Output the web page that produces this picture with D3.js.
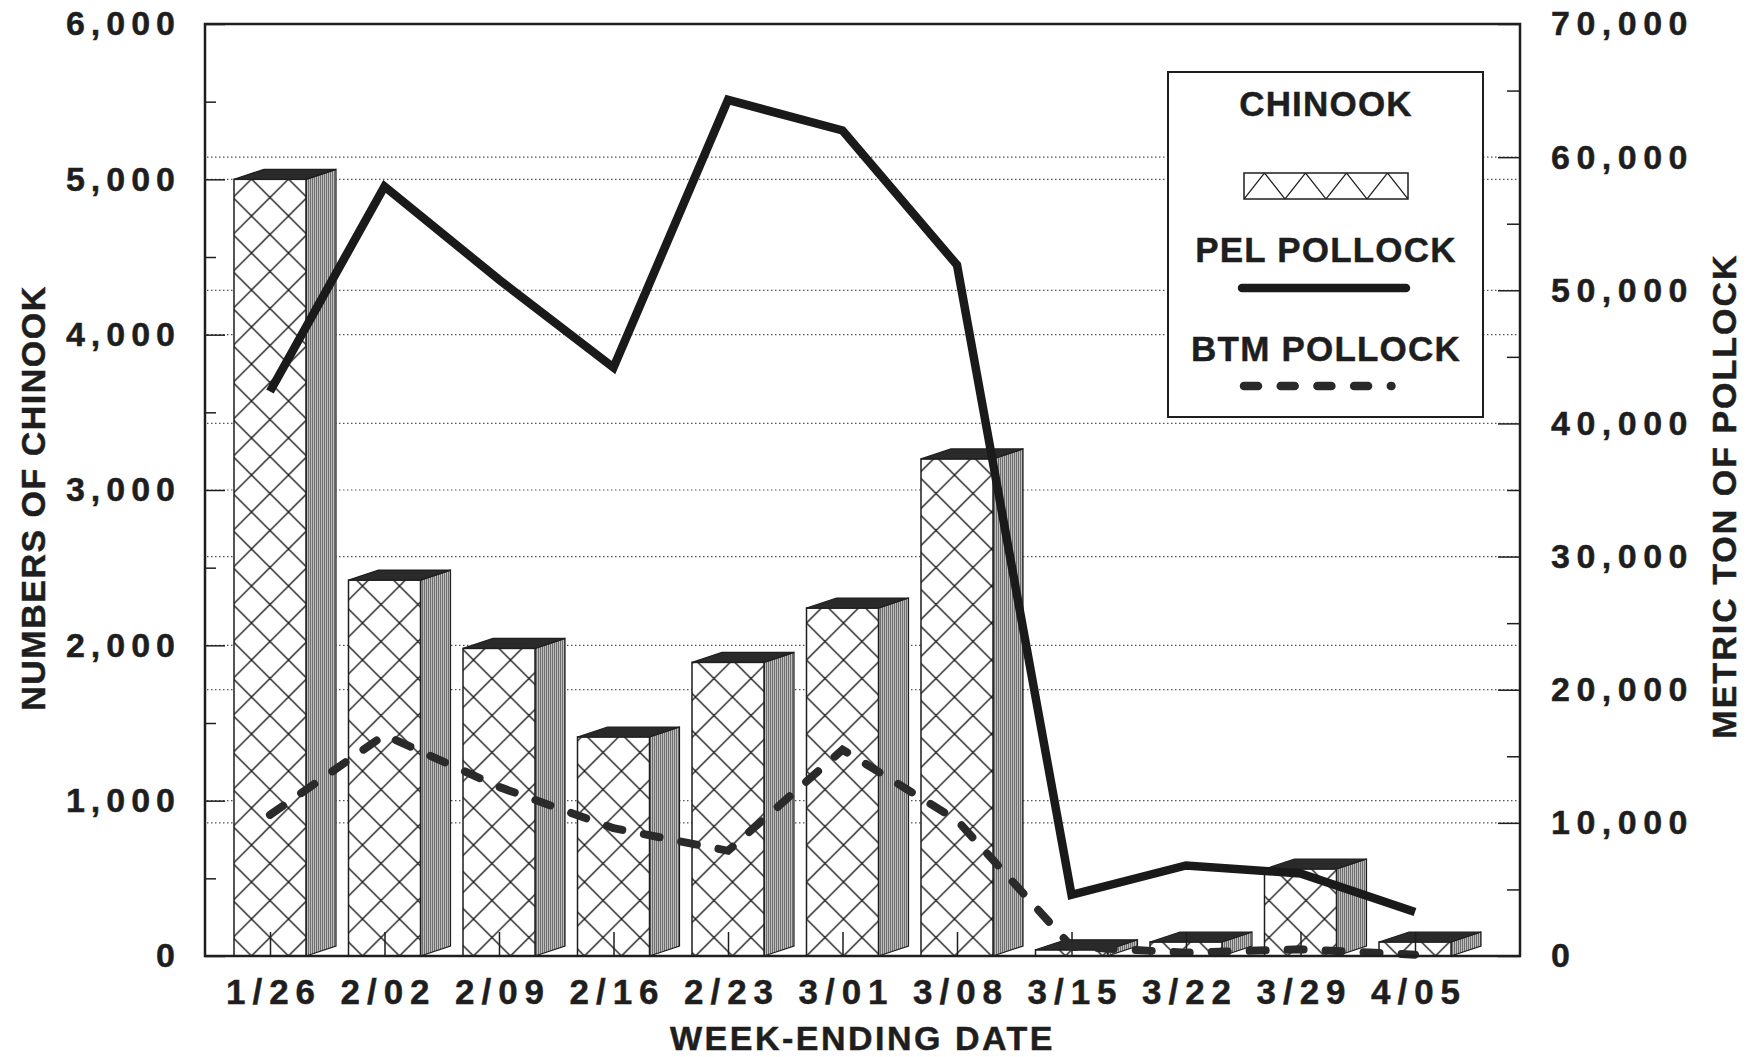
<!DOCTYPE html>
<html>
<head>
<meta charset="utf-8">
<script src="https://cdn.jsdelivr.net/npm/d3@7"></script>
<style>
  html, body { margin: 0; padding: 0; background: #fff; }
  svg { display: block; }
  text { font-family: "Liberation Sans", Arial, Helvetica, sans-serif; font-weight: bold; fill: #1e1e1e; stroke: #1e1e1e; stroke-width: 0.45px; }
</style>
</head>
<body>
<svg id="chart" width="1749" height="1057"></svg>
<script>
// ---- data ----
const weeks = ["1/26", "2/02", "2/09", "2/16", "2/23", "3/01", "3/08", "3/15", "3/22", "3/29", "4/05"];
const chinook = [5000, 2420, 1980, 1410, 1890, 2240, 3200, 40, 90, 560, 90];
const pelPollock = [42400, 57800, 50800, 44200, 64300, 62000, 51900, 4600, 6800, 6200, 3300];
const btmPollock = [10600, 16600, 12700, 9600, 7900, 15500, 10200, 700, 250, 500, 100];
const leftTicks = [0, 1000, 2000, 3000, 4000, 5000, 6000];
const leftMinor = [500, 1500, 2500, 3500, 4500, 5500];
const rightTicks = [0, 10000, 20000, 30000, 40000, 50000, 60000, 70000];
const rightMinor = [5000, 15000, 25000, 35000, 45000, 55000, 65000];
const legendLabels = ["CHINOOK", "PEL POLLOCK", "BTM POLLOCK"];

// ---- layout ----
const L = 205, R = 1520, T = 24, B = 956;
const svg = d3.select("#chart");

const x = d3.scalePoint().domain(weeks).range([270, 1415]);
const yL = d3.scaleLinear().domain([0, 6000]).range([B, T]);
const yR = d3.scaleLinear().domain([0, 70000]).range([B, T]);
const fmt = d3.format(",");

const halfW = 36, dx = 30, dy = -10;

// ---- patterns ----
const defs = svg.append("defs");
const s = 37;
const hatch = defs.append("pattern").attr("id", "hatch").attr("patternUnits", "userSpaceOnUse")
  .attr("width", s).attr("height", s).attr("x", 270 - s / 2).attr("y", B);
hatch.append("rect").attr("width", s).attr("height", s).attr("fill", "#fff");
hatch.append("path").attr("d", `M0,0L${s},${s}M${s},0L0,${s}M-1,1L1,-1M${s-1},${s+1}L${s+1},${s-1}`)
  .attr("stroke", "#1e1e1e").attr("stroke-width", 1.4);

const hatchLeg = defs.append("pattern").attr("id", "hatchLeg").attr("patternUnits", "userSpaceOnUse")
  .attr("width", 41).attr("height", 52).attr("x", 1244).attr("y", 173 - 26);
hatchLeg.append("rect").attr("width", 41).attr("height", 52).attr("fill", "#fff");
hatchLeg.append("path").attr("d", "M0,0L41,52M41,0L0,52").attr("stroke", "#1e1e1e").attr("stroke-width", 1.3);

const side = defs.append("pattern").attr("id", "side").attr("patternUnits", "userSpaceOnUse")
  .attr("width", 2).attr("height", 4);
side.append("rect").attr("width", 2).attr("height", 4).attr("fill", "#bdbdbd");
side.append("rect").attr("width", 1).attr("height", 4).attr("fill", "#6e6e6e");

// ---- gridlines (dotted) ----
const gridG = svg.append("g");
gridG.selectAll("line.gl").data(leftTicks.filter(d => d > 0 && d < 6000)).join("line")
  .attr("x1", L + 2).attr("x2", R - 2).attr("y1", d => yL(d)).attr("y2", d => yL(d))
  .attr("stroke", "#555").attr("stroke-width", 1.2).attr("stroke-dasharray", "1.5,2.5");
gridG.selectAll("line.gr").data(rightTicks.filter(d => d > 0 && d < 70000)).join("line")
  .attr("x1", L + 2).attr("x2", R - 2).attr("y1", d => yR(d)).attr("y2", d => yR(d))
  .attr("stroke", "#555").attr("stroke-width", 1.2).attr("stroke-dasharray", "1.5,2.5");

// ---- 3D bars ----
const bars = svg.append("g").selectAll("g").data(weeks.map((w, i) => ({ w, v: chinook[i] }))).join("g");
bars.append("path") // side face
  .attr("d", d => {
    const xr = x(d.w) + halfW, yt = yL(d.v);
    return `M${xr},${yt}L${xr + dx},${yt + dy}L${xr + dx},${B + dy}L${xr},${B}Z`;
  })
  .attr("fill", "url(#side)").attr("stroke", "#1e1e1e").attr("stroke-width", 1.2);
bars.append("rect") // front face
  .attr("x", d => x(d.w) - halfW).attr("y", d => yL(d.v))
  .attr("width", halfW * 2).attr("height", d => B - yL(d.v))
  .attr("fill", "url(#hatch)").attr("stroke", "#1e1e1e").attr("stroke-width", 1.5);
bars.append("path") // top face
  .attr("d", d => {
    const xl = x(d.w) - halfW, xr = x(d.w) + halfW, yt = yL(d.v);
    return `M${xl},${yt}L${xl + dx},${yt + dy}L${xr + dx},${yt + dy}L${xr},${yt}Z`;
  })
  .attr("fill", "#2a2a2a").attr("stroke", "#1e1e1e").attr("stroke-width", 1.2);

// ---- x axis ----
const xAxis = svg.append("g").attr("transform", `translate(0,${B})`)
  .call(d3.axisBottom(x).tickSize(-24).tickPadding(23));
xAxis.select(".domain").remove();
xAxis.selectAll(".tick line").attr("stroke", "#1e1e1e").attr("stroke-width", 1.5);
xAxis.selectAll(".tick text").attr("font-size", 35).attr("letter-spacing", 7)
  .attr("fill", "#1e1e1e").attr("font-family", null).attr("dx", 3.5);

// ---- lines ----
const lineR = d3.line().x((d, i) => x(weeks[i])).y(d => yR(d));
svg.append("path").datum(pelPollock).attr("d", lineR)
  .attr("fill", "none").attr("stroke", "#1a1a1a").attr("stroke-width", 8.5).attr("stroke-linejoin", "miter");
svg.append("path").datum(btmPollock).attr("d", lineR)
  .attr("fill", "none").attr("stroke", "#2a2a2a").attr("stroke-width", 8)
  .attr("stroke-dasharray", "16,22").attr("stroke-linecap", "round");

// ---- left axis ----
const leftAx = svg.append("g").attr("transform", `translate(${L},0)`)
  .call(d3.axisLeft(yL).tickValues(leftTicks).tickFormat(fmt).tickSize(-20).tickPadding(30));
leftAx.select(".domain").remove();
leftAx.selectAll(".tick line").attr("stroke", "#1e1e1e").attr("stroke-width", 1.5);
leftAx.selectAll(".tick text").attr("font-size", 34).attr("letter-spacing", 6)
  .attr("fill", "#1e1e1e").attr("font-family", null).attr("dx", 6);
const leftMin = svg.append("g").attr("transform", `translate(${L},0)`)
  .call(d3.axisLeft(yL).tickValues(leftMinor).tickFormat("").tickSize(-11));
leftMin.select(".domain").remove();
leftMin.selectAll(".tick line").attr("stroke", "#1e1e1e").attr("stroke-width", 1.5);

// ---- right axis ----
const rightAx = svg.append("g").attr("transform", `translate(${R},0)`)
  .call(d3.axisRight(yR).tickValues(rightTicks).tickFormat(fmt).tickSize(-22).tickPadding(31));
rightAx.select(".domain").remove();
rightAx.selectAll(".tick line").attr("stroke", "#1e1e1e").attr("stroke-width", 1.5);
rightAx.selectAll(".tick text").attr("font-size", 34).attr("letter-spacing", 6.5)
  .attr("fill", "#1e1e1e").attr("font-family", null);
const rightMin = svg.append("g").attr("transform", `translate(${R},0)`)
  .call(d3.axisRight(yR).tickValues(rightMinor).tickFormat("").tickSize(-13));
rightMin.select(".domain").remove();
rightMin.selectAll(".tick line").attr("stroke", "#1e1e1e").attr("stroke-width", 1.5);

// ---- frame ----
svg.append("rect").attr("x", L).attr("y", T).attr("width", R - L).attr("height", B - T)
  .attr("fill", "none").attr("stroke", "#1e1e1e").attr("stroke-width", 2.5);

// ---- axis titles ----
svg.append("text").attr("transform", `translate(45,${(T + B) / 2 + 8}) rotate(-90)`)
  .attr("text-anchor", "middle").attr("font-size", 34).attr("letter-spacing", 1.5)
  .text("NUMBERS OF CHINOOK");
svg.append("text").attr("transform", `translate(1736,${(T + B) / 2 + 6}) rotate(-90)`)
  .attr("text-anchor", "middle").attr("font-size", 34).attr("letter-spacing", 2)
  .text("METRIC TON OF POLLOCK");
svg.append("text").attr("x", (L + R) / 2).attr("y", 1050)
  .attr("text-anchor", "middle").attr("font-size", 34).attr("letter-spacing", 2.5)
  .text("WEEK-ENDING DATE");

// ---- legend ----
const leg = svg.append("g");
leg.append("rect").attr("x", 1168).attr("y", 72).attr("width", 315).attr("height", 345)
  .attr("fill", "#fff").attr("stroke", "#1e1e1e").attr("stroke-width", 2);
const legY = [116, 262, 361];
leg.selectAll("text").data(legendLabels).join("text")
  .attr("x", 1326).attr("y", (d, i) => legY[i])
  .attr("text-anchor", "middle").attr("font-size", 35).attr("letter-spacing", 1.2)
  .text(d => d);
leg.append("rect").attr("x", 1244).attr("y", 173).attr("width", 164).attr("height", 26)
  .attr("fill", "url(#hatchLeg)").attr("stroke", "#1e1e1e").attr("stroke-width", 1.5);
leg.append("line").attr("x1", 1242).attr("x2", 1406).attr("y1", 288).attr("y2", 288)
  .attr("stroke", "#1a1a1a").attr("stroke-width", 8.5).attr("stroke-linecap", "round");
leg.append("line").attr("x1", 1244).attr("x2", 1391.5).attr("y1", 386).attr("y2", 386)
  .attr("stroke", "#2a2a2a").attr("stroke-width", 8.5)
  .attr("stroke-dasharray", "14,22.7").attr("stroke-linecap", "round");
</script>
</body>
</html>
